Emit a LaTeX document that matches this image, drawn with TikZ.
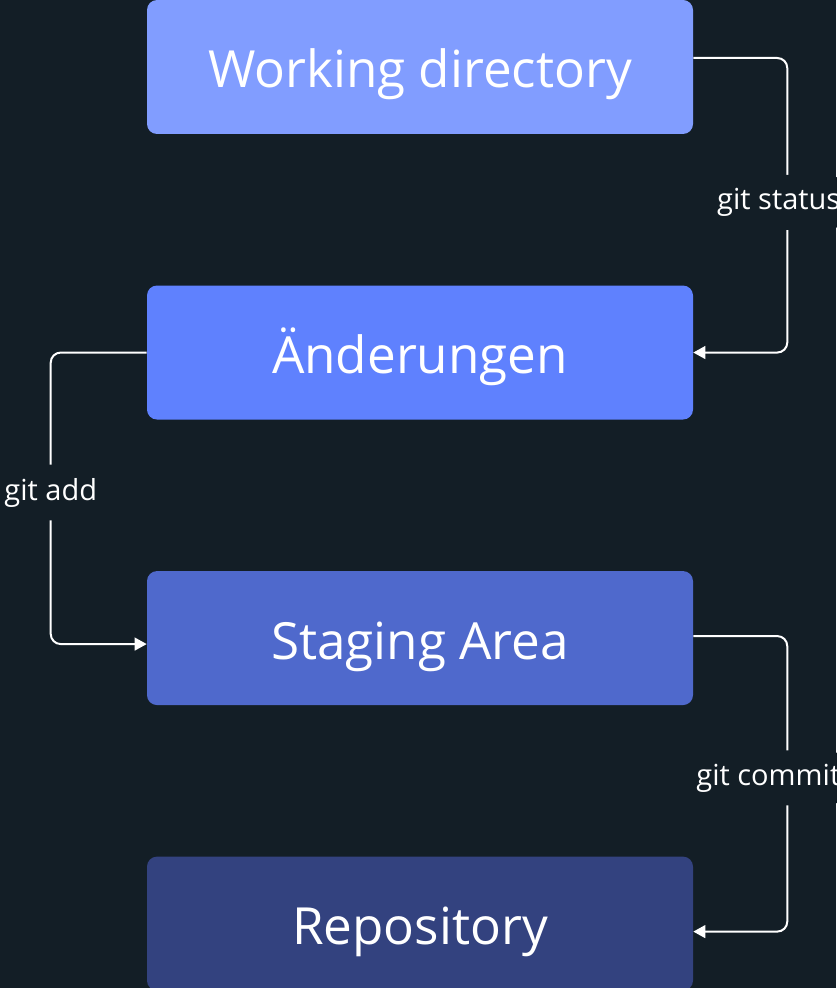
\documentclass[tikz,border=0pt]{standalone}
\usepackage{fontspec}
\setmainfont{Open Sans}
\usetikzlibrary{arrows.meta,positioning}
\definecolor{bg}{HTML}{131E26}
\definecolor{wdblue}{HTML}{819DFF}
\definecolor{chblue}{HTML}{5F81FE}
\definecolor{stblue}{HTML}{4F69CC}
\definecolor{rpblue}{HTML}{33427F}

\begin{document}
\begin{tikzpicture}[
      x=0.75pt, y=-0.75pt,
      every node/.style={text=white},
      box/.style={rounded corners=7.5pt, align=center,
                  minimum height=100.5pt, minimum width=409.5pt,
                  text height=31.5pt, text depth=0pt,
                  font=\fontsize{38.4pt}{42pt}\selectfont},
      conn/.style={draw=white, line width=1.5pt, rounded corners=7.5pt,
                   -{Triangle[length=9pt, width=9.5pt]}},
      lbl/.style={fill=bg, inner xsep=0pt, inner ysep=10pt,
                  font=\fontsize{21.75pt}{24pt}\selectfont}
    ]
    \fill[bg] (0,0) rectangle (836,988);
    \useasboundingbox (0,0) rectangle (836,988);

    \node[box, fill=wdblue] at (420,67) (work) {Working directory};
    \node[box, fill=chblue, below=113.25pt of work] (changes) {Änderungen};
    \node[box, fill=stblue, below=113.25pt of changes] (staging) {Staging Area};
    \node[box, fill=rpblue, below=113.25pt of staging] (repo) {Repository};

    \draw[conn] ([yshift=6.75pt]work.east) -- ++(94,0)
      -- node[lbl, anchor=east, xshift=40.5pt, pos=0.49] {git status}
      ([xshift=70.5pt]changes.east) -- (changes.east);
    \draw[conn] (changes.west) -- ++(-96,0)
      -- node[lbl, pos=0.48] {git add}
      ([xshift=-72pt, yshift=-4.5pt]staging.west) -- ([yshift=-4.5pt]staging.west);
    \draw[conn] ([yshift=1.5pt]staging.east) -- ++(94,0)
      -- node[lbl, anchor=east, xshift=40.5pt, pos=0.48] {git commit}
      ([xshift=70.5pt, yshift=-6pt]repo.east) -- ([yshift=-6pt]repo.east);
  \end{tikzpicture}
\end{document}
